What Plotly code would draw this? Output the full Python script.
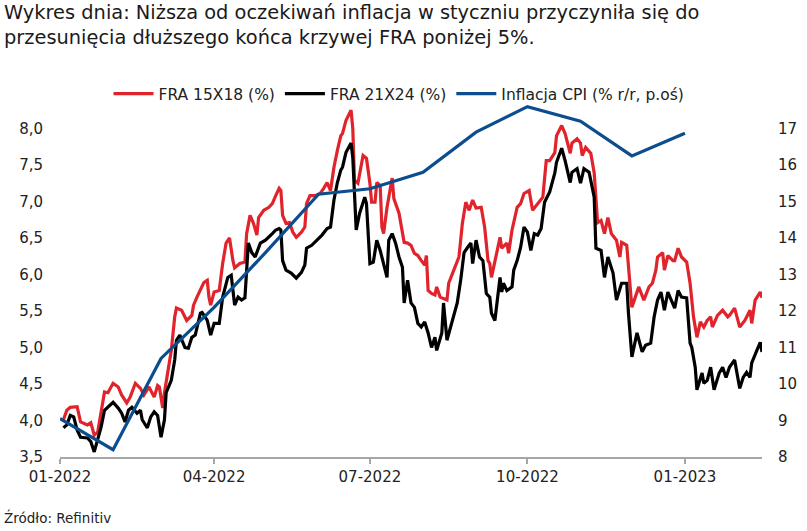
import plotly.graph_objects as go

# ---- data ----
fra15_dates = [
    "2022-01-03","2022-01-05","2022-01-07","2022-01-11","2022-01-13","2022-01-17","2022-01-19","2022-01-21","2022-01-23","2022-01-25",
    "2022-01-27","2022-01-29","2022-02-01","2022-02-04","2022-02-06","2022-02-09","2022-02-11","2022-02-14","2022-02-17","2022-02-19",
    "2022-02-22","2022-02-25","2022-02-27","2022-02-28","2022-03-02","2022-03-03","2022-03-05","2022-03-07","2022-03-09","2022-03-10",
    "2022-03-13","2022-03-16","2022-03-19","2022-03-20","2022-03-22","2022-03-24","2022-03-26","2022-03-28","2022-03-29","2022-03-30",
    "2022-04-01","2022-04-04","2022-04-06","2022-04-08","2022-04-10","2022-04-12","2022-04-13","2022-04-16","2022-04-19","2022-04-20",
    "2022-04-22","2022-04-24","2022-04-26","2022-04-27","2022-04-30","2022-05-03","2022-05-05","2022-05-07","2022-05-09","2022-05-10",
    "2022-05-11","2022-05-13","2022-05-15","2022-05-17","2022-05-19","2022-05-22","2022-05-24","2022-05-25","2022-05-27","2022-05-30",
    "2022-06-02","2022-06-04","2022-06-06","2022-06-08","2022-06-10","2022-06-12","2022-06-14","2022-06-15","2022-06-17","2022-06-20",
    "2022-06-21","2022-06-22","2022-06-24","2022-06-27","2022-06-29","2022-07-01","2022-07-02","2022-07-04","2022-07-05","2022-07-07",
    "2022-07-08","2022-07-09","2022-07-11","2022-07-14","2022-07-15","2022-07-18","2022-07-21","2022-07-23","2022-07-25","2022-07-27",
    "2022-07-29","2022-07-31","2022-08-02","2022-08-03","2022-08-04","2022-08-06","2022-08-08","2022-08-09","2022-08-11","2022-08-15",
    "2022-08-16","2022-08-19","2022-08-22","2022-08-24","2022-08-26","2022-08-28","2022-08-30","2022-09-01","2022-09-04","2022-09-06",
    "2022-09-08","2022-09-09","2022-09-10","2022-09-13","2022-09-15","2022-09-16","2022-09-19","2022-09-20","2022-09-22","2022-09-25",
    "2022-09-27","2022-09-29","2022-10-02","2022-10-04","2022-10-07","2022-10-10","2022-10-12","2022-10-14","2022-10-17","2022-10-18",
    "2022-10-21","2022-10-23","2022-10-26","2022-10-27","2022-10-30","2022-11-01","2022-11-02","2022-11-04","2022-11-07","2022-11-09",
    "2022-11-11","2022-11-13","2022-11-15","2022-11-17","2022-11-19","2022-11-22","2022-11-24","2022-11-25","2022-11-28","2022-12-01",
    "2022-12-03","2022-12-05","2022-12-08","2022-12-11","2022-12-13","2022-12-15","2022-12-16","2022-12-19","2022-12-20","2022-12-22",
    "2022-12-25","2022-12-26","2022-12-28","2022-12-30","2023-01-02","2023-01-04","2023-01-06","2023-01-08","2023-01-10","2023-01-12",
    "2023-01-14","2023-01-16","2023-01-17","2023-01-20","2023-01-23","2023-01-26","2023-01-27","2023-01-30","2023-02-02","2023-02-05",
    "2023-02-08","2023-02-09","2023-02-11","2023-02-14","2023-02-15",
]
fra15_values = [
    4.01,4.14,4.18,4.19,3.98,3.94,3.97,3.80,3.84,4.12,
    4.39,4.38,4.51,4.46,4.35,4.24,4.32,4.51,4.44,4.35,
    4.46,4.32,4.48,4.46,4.17,4.38,4.65,4.96,5.42,5.54,
    5.51,5.37,5.44,5.58,5.69,5.78,5.89,5.92,5.69,5.58,
    5.76,5.78,6.15,6.43,6.50,6.19,6.09,6.15,6.17,6.56,
    6.81,6.70,6.54,6.78,6.88,6.92,6.97,7.08,7.18,7.15,
    6.81,6.70,6.71,6.58,6.51,6.58,6.65,6.97,7.08,7.08,
    7.11,7.18,7.26,7.15,7.47,7.70,7.90,7.93,8.11,8.25,
    8.00,7.29,7.25,7.63,7.59,7.25,6.99,6.99,7.26,7.22,
    6.65,6.56,6.92,7.32,7.04,6.84,6.44,6.43,6.40,6.29,
    6.26,6.19,6.13,6.26,5.78,5.74,5.72,5.83,5.69,5.65,
    5.88,6.06,6.24,6.70,6.99,6.88,7.02,6.91,6.92,6.65,
    6.19,6.15,5.96,6.29,6.51,6.36,6.43,6.29,6.61,6.92,
    6.97,7.11,7.15,6.88,6.97,7.06,7.56,7.56,7.67,7.90,
    8.04,7.93,7.66,7.80,7.86,7.80,7.63,7.74,7.66,7.39,
    6.71,6.74,6.56,6.78,6.56,6.47,6.24,6.44,6.40,5.55,
    5.69,5.83,5.65,5.83,5.88,6.06,6.24,6.30,6.06,6.26,
    6.19,6.19,6.36,6.24,6.17,5.88,5.42,5.14,5.35,5.28,
    5.37,5.42,5.28,5.44,5.51,5.42,5.44,5.54,5.28,5.37,
    5.51,5.33,5.65,5.76,5.68,
]

fra21_dates = [
    "2022-01-03","2022-01-05","2022-01-07","2022-01-09","2022-01-11","2022-01-13","2022-01-17","2022-01-19","2022-01-21","2022-01-23",
    "2022-01-25","2022-01-27","2022-01-30","2022-02-01","2022-02-04","2022-02-06","2022-02-08","2022-02-10","2022-02-12","2022-02-15",
    "2022-02-17","2022-02-18","2022-02-21","2022-02-23","2022-02-25","2022-02-27","2022-03-01","2022-03-03","2022-03-04","2022-03-07",
    "2022-03-09","2022-03-10","2022-03-12","2022-03-15","2022-03-17","2022-03-19","2022-03-21","2022-03-24","2022-03-25","2022-03-28",
    "2022-03-30","2022-04-01","2022-04-04","2022-04-06","2022-04-09","2022-04-11","2022-04-13","2022-04-15","2022-04-17","2022-04-19",
    "2022-04-21","2022-04-23","2022-04-25","2022-04-28","2022-05-01","2022-05-03","2022-05-05","2022-05-07","2022-05-09","2022-05-10",
    "2022-05-11","2022-05-13","2022-05-16","2022-05-19","2022-05-22","2022-05-24","2022-05-25","2022-05-28","2022-05-31","2022-06-03",
    "2022-06-06","2022-06-08","2022-06-10","2022-06-12","2022-06-14","2022-06-15","2022-06-17","2022-06-20","2022-06-21","2022-06-23",
    "2022-06-25","2022-06-28","2022-06-29","2022-07-01","2022-07-03","2022-07-05","2022-07-07","2022-07-09","2022-07-11","2022-07-12",
    "2022-07-14","2022-07-16","2022-07-18","2022-07-20","2022-07-21","2022-07-23","2022-07-25","2022-07-27","2022-07-29","2022-07-31",
    "2022-08-02","2022-08-04","2022-08-06","2022-08-08","2022-08-09","2022-08-12","2022-08-13","2022-08-15","2022-08-18","2022-08-21",
    "2022-08-23","2022-08-25","2022-08-27","2022-08-29","2022-08-30","2022-09-01","2022-09-03","2022-09-05","2022-09-07","2022-09-09",
    "2022-09-10","2022-09-12","2022-09-15","2022-09-16","2022-09-17","2022-09-19","2022-09-22","2022-09-23","2022-09-25","2022-09-27",
    "2022-09-29","2022-10-01","2022-10-03","2022-10-05","2022-10-07","2022-10-09","2022-10-11","2022-10-14","2022-10-17","2022-10-18",
    "2022-10-21","2022-10-23","2022-10-26","2022-10-27","2022-10-30","2022-11-01","2022-11-03","2022-11-06","2022-11-09","2022-11-10",
    "2022-11-13","2022-11-15","2022-11-17","2022-11-20","2022-11-22","2022-11-25","2022-11-28","2022-11-29","2022-12-01","2022-12-04",
    "2022-12-07","2022-12-09","2022-12-12","2022-12-14","2022-12-16","2022-12-18","2022-12-20","2022-12-22","2022-12-24","2022-12-26",
    "2022-12-28","2022-12-30","2023-01-02","2023-01-04","2023-01-05","2023-01-07","2023-01-08","2023-01-11","2023-01-12","2023-01-14",
    "2023-01-16","2023-01-18","2023-01-21","2023-01-23","2023-01-25","2023-01-27","2023-01-30","2023-02-02","2023-02-04","2023-02-06",
    "2023-02-08","2023-02-09","2023-02-12","2023-02-14","2023-02-15",
]
fra21_values = [
    3.90,3.94,4.07,4.05,3.87,3.77,3.76,3.71,3.57,3.73,
    3.91,4.14,4.21,4.25,4.17,4.10,3.98,4.14,4.18,4.10,
    4.14,4.01,3.90,4.05,4.12,4.07,3.77,4.01,4.38,4.55,
    4.83,5.10,5.17,5.00,4.99,5.14,5.17,5.47,5.48,5.37,
    5.17,5.33,5.33,5.69,5.96,5.99,5.58,5.69,5.65,5.68,
    6.43,6.30,6.24,6.43,6.47,6.51,6.56,6.61,6.63,6.61,
    6.19,6.06,6.02,5.95,6.03,6.13,6.36,6.40,6.47,6.54,
    6.63,6.65,7.02,7.26,7.43,7.47,7.67,7.80,7.60,6.61,
    6.84,7.06,6.97,6.15,6.17,6.47,6.33,6.15,5.96,6.47,
    6.56,6.43,6.24,6.10,5.61,5.92,5.61,5.55,5.33,5.28,
    5.35,5.20,5.00,5.14,4.96,5.20,5.61,5.10,5.37,5.61,
    5.92,6.30,6.37,6.43,6.15,6.47,6.24,6.19,5.74,5.69,
    5.47,5.37,5.96,5.76,5.88,5.78,5.83,6.06,6.19,6.37,
    6.65,6.58,6.33,6.56,6.54,6.63,6.99,7.13,7.39,7.54,
    7.73,7.56,7.26,7.40,7.45,7.25,7.45,7.40,7.06,6.36,
    6.33,5.96,6.24,6.02,5.65,5.88,5.88,5.47,4.87,5.20,
    4.94,5.03,5.06,5.42,5.65,5.76,5.51,5.76,5.65,5.54,
    5.78,5.69,5.68,5.06,5.00,4.73,4.42,4.65,4.51,4.55,
    4.73,4.42,4.65,4.73,4.59,4.73,4.83,4.44,4.59,4.66,
    4.59,4.79,4.96,5.07,4.94,
]

cpi_dates = [
    "2022-01-01","2022-02-01","2022-03-01","2022-04-01","2022-05-01","2022-06-01","2022-07-01",
    "2022-08-01","2022-09-01","2022-10-01","2022-11-01","2022-12-01","2023-01-01",
]
cpi_values = [9.05, 8.2, 10.7, 12.1, 13.6, 15.2, 15.35, 15.8, 16.9, 17.6, 17.2, 16.25, 16.87]

x_tickvals = ["2022-01-01", "2022-04-01", "2022-07-01", "2022-10-01", "2023-01-01"]
x_ticktext = ["01-2022", "04-2022", "07-2022", "10-2022", "01-2023"]
left_ticks = [3.5, 4.0, 4.5, 5.0, 5.5, 6.0, 6.5, 7.0, 7.5, 8.0]
right_ticks = [8, 9, 10, 11, 12, 13, 14, 15, 16, 17]

title_text = ("Wykres dnia: Niższa od oczekiwań inflacja w styczniu przyczyniła się do<br>"
              "przesunięcia dłuższego końca krzywej FRA poniżej 5%.")
source_text = "Źródło: Refinitiv"

FONT = "'DejaVu Sans', Verdana, sans-serif"
RED = "#e1232c"
BLACK = "#000000"
BLUE = "#0b4d8d"
TXT = "#222222"

W, H = 807, 531
L, R, T, B = 60, 45, 92, 74
PW, PH = W - L - R, H - T - B


def px_x(px):
    return (px - L) / PW


def px_y(py):
    return (H - B - py) / PH


fig = go.Figure()
fig.add_trace(go.Scatter(x=fra15_dates, y=fra15_values, name="FRA 15X18 (%)",
                         mode="lines", line=dict(color=RED, width=3.2)))
fig.add_trace(go.Scatter(x=fra21_dates, y=fra21_values, name="FRA 21X24 (%)",
                         mode="lines", line=dict(color=BLACK, width=3.2)))
fig.add_trace(go.Scatter(x=cpi_dates, y=cpi_values, name="Inflacja CPI (% r/r, p.oś)",
                         mode="lines", line=dict(color=BLUE, width=3.2), yaxis="y2"))

fig.update_layout(
    width=W, height=H,
    margin=dict(l=L, r=R, t=T, b=B, autoexpand=False),
    paper_bgcolor="white", plot_bgcolor="white",
    font=dict(family=FONT, size=15, color=TXT),
    separators=", ",
    showlegend=True,
    legend=dict(orientation="h", x=px_x(399), xanchor="center", y=px_y(94), yanchor="middle",
                font=dict(size=15.5, color=TXT), bgcolor="rgba(0,0,0,0)", itemwidth=40),
    xaxis=dict(type="date", range=["2022-01-01", "2023-02-15"],
               tickvals=x_tickvals, ticktext=x_ticktext,
               showgrid=False, zeroline=False, automargin=False,
               showline=True, linecolor="#a6a6a6", linewidth=2,
               ticks="outside", ticklen=5, tickcolor="#a6a6a6", tickwidth=1.5,
               tickfont=dict(size=15, color=TXT)),
    yaxis=dict(range=[3.5, 8.5], tickvals=left_ticks, tickformat=".1f",
               showgrid=False, zeroline=False, showline=False, ticks="", automargin=False,
               ticklabelstandoff=16, tickfont=dict(size=15, color=TXT)),
    yaxis2=dict(range=[8, 18], tickvals=right_ticks, overlaying="y", side="right",
                showgrid=False, zeroline=False, showline=False, ticks="", automargin=False,
                ticklabelstandoff=15, tickfont=dict(size=15, color=TXT)),
    annotations=[
        dict(text=title_text, x=px_x(2), xref="paper", xanchor="left", align="left",
             y=px_y(25), yref="paper", yanchor="middle", showarrow=False,
             font=dict(family=FONT, size=19.4, color="#1a1a1a")),
        dict(text=source_text, x=px_x(2), xref="paper", xanchor="left",
             y=px_y(517), yref="paper", yanchor="middle", showarrow=False,
             font=dict(size=13.5, color=TXT)),
    ],
)

fig.write_html("out.html",
               config={"displayModeBar": False},
               post_script="document.body.style.margin='0';document.body.style.padding='0';")
